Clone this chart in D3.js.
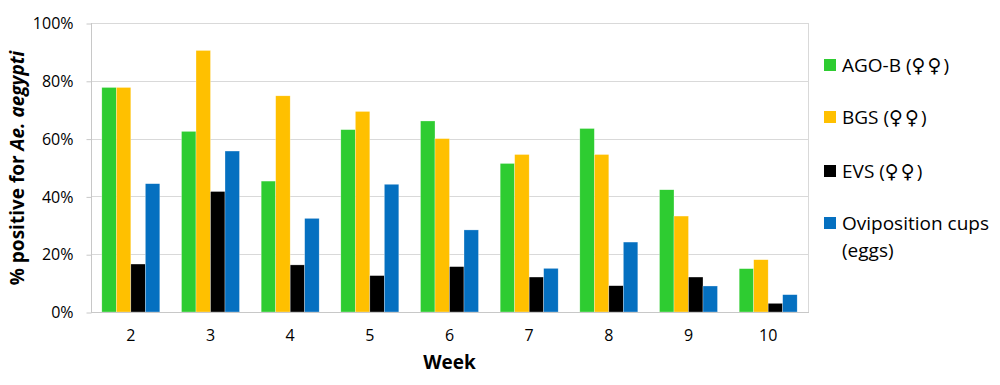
<!DOCTYPE html>
<html>
<head>
<meta charset="utf-8">
<script src="https://cdn.jsdelivr.net/npm/d3@7"></script>
<style>
  body { margin: 0; background: #fff; }
  text { font-family: "Open Sans", sans-serif; fill: #000; }
</style>
</head>
<body>
<script>
// weeks on the x axis
var weeks = ["2", "3", "4", "5", "6", "7", "8", "9", "10"];

// % positive, one array per trap type
var agoB = [77.7, 62.5, 45.3, 63.1, 66.1, 51.4, 63.5, 42.3, 15.0];
var bgs = [77.7, 90.5, 74.8, 69.4, 60.0, 54.5, 54.5, 33.2, 18.1];
var evs = [16.6, 41.7, 16.3, 12.6, 15.7, 12.1, 9.1, 12.1, 3.0];
var ovi = [44.4, 55.7, 32.4, 44.2, 28.4, 15.1, 24.2, 9.0, 6.0];

var seriesNames = ["AGO-B", "BGS", "EVS", "Oviposition cups"];
var seriesFemale = [true, true, true, false];
var seriesColors = ["#2ECC31", "#FFC000", "#000000", "#0570C0"];
var yTicks = [0, 20, 40, 60, 80, 100];

var width = 1000, height = 385;
// plot area edges (don't call these top/left, window.top is read-only)
var pL = 91, pR = 808, pT = 23, pB = 312;

var svg = d3.select("body").append("svg")
    .attr("width", width)
    .attr("height", height);

var series = [agoB, bgs, evs, ovi];

var x = d3.scaleBand()
    .domain(weeks)
    .range([pL, pR])
    .paddingInner(0.272)
    .paddingOuter(0.136);

var x1 = d3.scaleBand()
    .domain(d3.range(series.length))
    .range([0, x.bandwidth()]);

var y = d3.scaleLinear()
    .domain([0, 100])
    .range([pB, pT]);

// gridlines
svg.append("g")
    .selectAll("line")
    .data(yTicks)
    .enter()
    .append("line")
    .attr("x1", pL)
    .attr("x2", pR)
    .attr("y1", function(d) { return Math.round(y(d)) + 0.5; })
    .attr("y2", function(d) { return Math.round(y(d)) + 0.5; })
    .attr("stroke", "#d9d9d9")
    .attr("stroke-width", 1);

// plot area border left/right
svg.append("line")
    .attr("x1", pL + 0.5).attr("x2", pL + 0.5)
    .attr("y1", pT).attr("y2", pB + 1)
    .attr("stroke", "#c8c8c8");
svg.append("line")
    .attr("x1", pR + 0.5).attr("x2", pR + 0.5)
    .attr("y1", pT).attr("y2", pB + 1)
    .attr("stroke", "#d9d9d9");

// y axis with small ticks on the left
var yAxis = d3.axisLeft(y)
    .tickValues(yTicks)
    .tickSize(5)
    .tickPadding(13)
    .tickFormat(function(d) { return d + "%"; });

var ya = svg.append("g")
    .attr("transform", "translate(" + (pL + 0.5) + ",0.5)")
    .call(yAxis);
ya.select(".domain").remove();
ya.selectAll(".tick line").attr("stroke", "#c8c8c8");
ya.selectAll(".tick text")
    .style("font-size", "16px")
    .style("font-family", "'Open Sans', sans-serif")
    .attr("fill", "#000");

// bars
var groups = svg.append("g")
    .selectAll("g")
    .data(weeks)
    .enter()
    .append("g")
    .attr("transform", function(d) { return "translate(" + x(d) + ",0)"; });

groups.selectAll("rect")
    .data(function(d, i) {
        return series.map(function(s, k) { return {k: k, v: s[i]}; });
    })
    .enter()
    .append("rect")
    .attr("x", function(d) { return x1(d.k); })
    .attr("width", x1.bandwidth())
    .attr("y", function(d) { return y(d.v); })
    .attr("height", function(d) { return pB - y(d.v); })
    .attr("fill", function(d) { return seriesColors[d.k]; })
    .attr("stroke", "#ffffff")
    .attr("stroke-opacity", 0.6)
    .attr("stroke-width", 0.5);

// x axis line
svg.append("line")
    .attr("x1", pL).attr("x2", pR + 1)
    .attr("y1", pB + 0.5).attr("y2", pB + 0.5)
    .attr("stroke", "#c8c8c8");

var xAxis = d3.axisBottom(x).tickSize(0).tickPadding(18);
var xa = svg.append("g")
    .attr("transform", "translate(0," + pB + ")")
    .call(xAxis);
xa.select(".domain").remove();
xa.selectAll(".tick text")
    .style("font-size", "16px")
    .style("font-family", "'Open Sans', sans-serif")
    .attr("fill", "#000");

// axis titles
svg.append("text")
    .attr("x", (pL + pR) / 2)
    .attr("y", 369)
    .attr("text-anchor", "middle")
    .style("font-size", "19px")
    .style("font-weight", "bold")
    .text("Week");

var yt = svg.append("text")
    .attr("transform", "translate(24,168) rotate(-90)")
    .attr("text-anchor", "middle")
    .style("font-size", "19px")
    .style("font-weight", "bold");
yt.append("tspan").text("% positive for ");
yt.append("tspan").style("font-style", "italic").text("Ae. aegypti");

// legend
var legendY = [65, 117, 171, 223];
var legend = svg.append("g")
    .selectAll("g")
    .data(seriesNames)
    .enter()
    .append("g")
    .attr("transform", function(d, i) { return "translate(824," + legendY[i] + ")"; });

legend.append("rect")
    .attr("x", 0)
    .attr("y", -6)
    .attr("width", 12)
    .attr("height", 12)
    .attr("fill", function(d, i) { return seriesColors[i]; });

var lt = legend.append("text")
    .attr("x", 18)
    .attr("y", 0)
    .attr("dy", "0.35em")
    .style("font-size", "19px");
lt.append("tspan").text(function(d, i) { return seriesFemale[i] ? d + " (" : d; });
lt.filter(function(d, i) { return seriesFemale[i]; })
    .append("tspan")
    .style("font-family", "'DejaVu Sans', sans-serif")
    .style("letter-spacing", "2px")
    .text("\u2640\u2640");
lt.filter(function(d, i) { return seriesFemale[i]; })
    .append("tspan")
    .text(")");

svg.append("text")
    .attr("x", 842)
    .attr("y", 250)
    .attr("dy", "0.35em")
    .style("font-size", "19px")
    .text("(eggs)");
</script>
</body>
</html>
